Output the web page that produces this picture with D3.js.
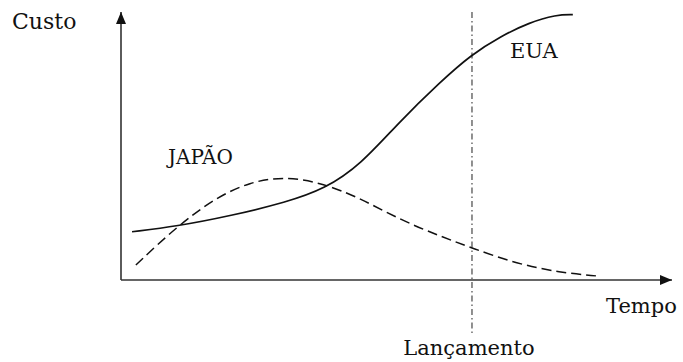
<!DOCTYPE html>
<html>
<head>
<meta charset="utf-8">
<script src="https://cdn.jsdelivr.net/npm/d3@7"></script>
<style>
  body { margin: 0; background: #fff; }
  svg text { font-family: "DejaVu Serif", serif; fill: #111; }
</style>
</head>
<body>
<svg width="683" height="362"></svg>
<script>
// tempo (0-100) e custo (0-100)
var euaTempo  = [2, 10, 20, 30, 37, 43.5, 50.5, 58, 63.5, 69, 74, 79, 82];
var euaCusto  = [18, 20, 24, 29, 34, 43, 59, 74, 84, 91, 96, 99, 99];
var japaoTempo = [2.7, 10.2, 17.4, 23.4, 29.4, 36, 43, 50.6, 57.9, 63.7, 71.9, 79.7, 86.4];
var japaoCusto = [5.6, 20.1, 31, 36.5, 38.6, 36.5, 31, 22.5, 16.4, 11.9, 6, 2.8, 1.5];
var lancamento = 63.7;

var svg = d3.select("svg");
var x = d3.scaleLinear().domain([0, 100]).range([121, 672]);
var y = d3.scaleLinear().domain([0, 100]).range([280, 12]);

var defs = svg.append("defs");
defs.append("marker")
    .attr("id", "seta")
    .attr("viewBox", "0 0 12 10")
    .attr("refX", 12).attr("refY", 5)
    .attr("markerWidth", 12).attr("markerHeight", 10)
    .attr("markerUnits", "userSpaceOnUse")
    .attr("orient", "auto")
    .append("path").attr("d", "M0,0 L12,5 L0,10 Z").attr("fill", "#111");

// eixos
svg.append("line")
    .attr("x1", x(0)).attr("y1", y(0))
    .attr("x2", x(0)).attr("y2", y(100))
    .attr("stroke", "#333").attr("stroke-width", 1.6)
    .attr("marker-end", "url(#seta)");
svg.append("line")
    .attr("x1", x(0)).attr("y1", y(0))
    .attr("x2", x(100)).attr("y2", y(0))
    .attr("stroke", "#333").attr("stroke-width", 1.6)
    .attr("marker-end", "url(#seta)");

// linha de lançamento
svg.append("line")
    .attr("x1", x(lancamento)).attr("y1", y(100))
    .attr("x2", x(lancamento)).attr("y2", 334)
    .attr("stroke", "#222").attr("stroke-width", 1)
    .attr("stroke-dasharray", "6,3,1.5,3");

var line = d3.line()
    .x(d => x(d[0]))
    .y(d => y(d[1]))
    .curve(d3.curveBasis);

svg.append("path")
    .datum(d3.zip(euaTempo, euaCusto))
    .attr("d", line)
    .attr("fill", "none")
    .attr("stroke", "#111")
    .attr("stroke-width", 1.7);

svg.append("path")
    .datum(d3.zip(japaoTempo, japaoCusto))
    .attr("d", line)
    .attr("fill", "none")
    .attr("stroke", "#111")
    .attr("stroke-width", 1.5)
    .attr("stroke-dasharray", "10,5");

// textos
svg.append("text").attr("x", 12).attr("y", 29).attr("font-size", 22).text("Custo");
svg.append("text").attr("x", 168).attr("y", 164).attr("font-size", 20).text("JAPÃO");
svg.append("text").attr("x", 510).attr("y", 58).attr("font-size", 21).text("EUA");
svg.append("text").attr("x", 606).attr("y", 313).attr("font-size", 21).text("Tempo");
svg.append("text").attr("x", x(lancamento) - 3).attr("y", 355)
    .attr("text-anchor", "middle").attr("font-size", 21).text("Lançamento");
</script>
</body>
</html>
